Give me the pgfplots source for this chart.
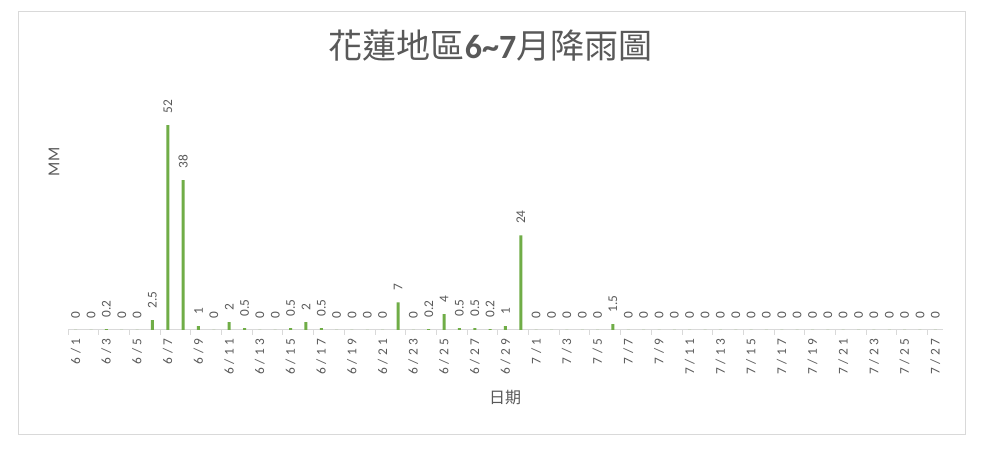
\documentclass[border=0pt]{standalone}
\usepackage{pgfplots}
\pgfplotsset{compat=1.18}
\usepackage{fontspec}
\setmainfont{Carlito}
\newfontfamily\cjk{Noto Sans CJK TC}
\newfontfamily\tickfont{Carlito}[LetterSpace=28]
\definecolor{txt}{HTML}{595959}
\definecolor{barc}{HTML}{70AD47}
\definecolor{gridc}{HTML}{D9D9D9}
\begin{document}
\begin{tikzpicture}
\useasboundingbox (0,0) rectangle (737.25pt,337.5pt);
\fill[white] (0,0) rectangle (737.25pt,337.5pt);
\draw[gridc, line width=0.75pt] (13.5pt,11.25pt) rectangle (723.75pt,328.5pt);
\begin{axis}[
  at={(51pt,90pt)}, anchor=south west,
  scale only axis, width=656.25pt, height=177.4pt,
  xmin=-0.5, xmax=56.5, ymin=0, ymax=60,
  axis x line=bottom, axis y line=none,
  x axis line style={-, draw=gridc, line width=0.75pt},
  ytick=\empty,
  clip=false,
  ybar, bar width=2.25pt,
  xtick={0,2,...,56},
  xticklabels={6/1,6/3,6/5,6/7,6/9,6/11,6/13,6/15,6/17,6/19,6/21,6/23,6/25,6/27,6/29,7/1,7/3,7/5,7/7,7/9,7/11,7/13,7/15,7/17,7/19,7/21,7/23,7/25,7/27},
  major tick length=0pt,
  tick align=outside,
  tick style={draw=gridc, line width=0.75pt},
  extra x ticks={-0.5,1.5,...,55.5},
  extra x tick labels={},
  extra x tick style={major tick length=3.75pt},
  xticklabel style={rotate=90, anchor=east, inner sep=0pt, font=\tickfont\fontsize{10}{10}\selectfont, text=txt},
  xticklabel shift=6pt,
  /pgf/number format/assume math mode=true,
  nodes near coords={\pgfmathprintnumber{\pgfplotspointmeta}},
  every node near coord/.append style={rotate=90, anchor=west, inner xsep=8.5pt, inner ysep=0pt, font=\fontsize{10}{10}\selectfont, text=txt},
]
\addplot[fill=barc, draw=none] coordinates {
(0,0) (1,0) (2,0.2) (3,0) (4,0) (5,2.5) (6,52) (7,38) (8,1) (9,0)
(10,2) (11,0.5) (12,0) (13,0) (14,0.5) (15,2) (16,0.5) (17,0) (18,0) (19,0)
(20,0) (21,7) (22,0) (23,0.2) (24,4) (25,0.5) (26,0.5) (27,0.2) (28,1) (29,24)
(30,0) (31,0) (32,0) (33,0) (34,0) (35,1.5) (36,0) (37,0) (38,0) (39,0)
(40,0) (41,0) (42,0) (43,0) (44,0) (45,0) (46,0) (47,0) (48,0) (49,0)
(50,0) (51,0) (52,0) (53,0) (54,0) (55,0) (56,0)
};
\end{axis}
\node[text=txt, font=\fontsize{25.5}{25.5}\selectfont] at (368pt,303pt) {\cjk 花蓮地區{\bfseries\rmfamily 6\textasciitilde7}月降雨圖};
\node[text=txt, font=\fontsize{12.5}{12.5}\selectfont, rotate=90] at (40.5pt,216pt) {MM};
\node[text=txt, font=\cjk\fontsize{12}{12}\selectfont] at (378.75pt,39pt) {日期};
\end{tikzpicture}
\end{document}
